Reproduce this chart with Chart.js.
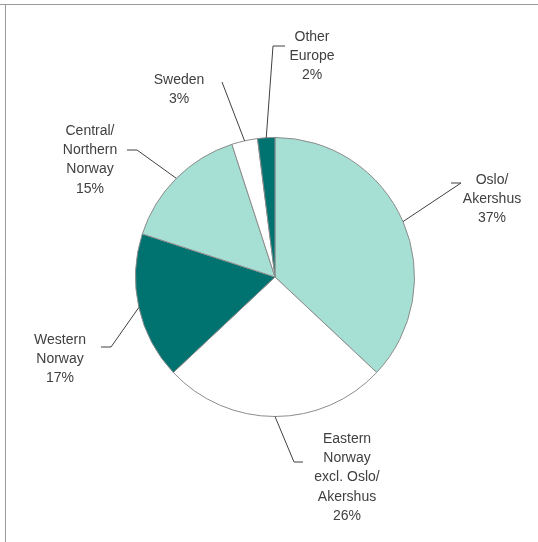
<!DOCTYPE html>
<html>
<head>
<meta charset="utf-8">
<script src="https://cdn.jsdelivr.net/npm/chart.js@4"></script>
<style>
  html, body { margin: 0; padding: 0; background: #fff; }
  #wrap { position: relative; width: 538px; height: 542px; }
</style>
</head>
<body>
<div id="wrap"><canvas id="pieChart" width="538" height="542"></canvas></div>
<script>
// Chart data
const categories = [
  ['Oslo/', 'Akershus'],
  ['Eastern', 'Norway', 'excl. Oslo/', 'Akershus'],
  ['Western', 'Norway'],
  ['Central/', 'Northern', 'Norway'],
  ['Sweden'],
  ['Other', 'Europe']
];
const shares = [37, 26, 17, 15, 3, 2];
const sliceColors = ['#a6e0d4', '#ffffff', '#007370', '#a6e0d4', '#ffffff', '#007370'];

// Label placement: text centre / first line y, leader elbow and end
const labelLayout = [
  { x: 492, y: 180, elbow: [461, 183], end: [451, 183] },
  { x: 347, y: 439, elbow: [294, 462], end: [303, 462] },
  { x: 60,  y: 340, elbow: [111, 347], end: [101, 347] },
  { x: 90,  y: 131, elbow: [137, 150], end: [127, 150] },
  { x: 179, y: 80,  elbow: [222, 82],  end: [222, 82] },
  { x: 312, y: 37,  elbow: [273, 46],  end: [285, 46] }
];

const labelPlugin = {
  id: 'pieLabels',
  afterDraw(chart) {
    const ctx = chart.ctx;
    ctx.save();
    // frame
    ctx.strokeStyle = '#9a9a9a';
    ctx.lineWidth = 1;
    ctx.beginPath();
    ctx.moveTo(0, 4.5);
    ctx.lineTo(538, 4.5);
    ctx.moveTo(5.5, 4.5);
    ctx.lineTo(5.5, 542);
    ctx.stroke();

    const arcs = chart.getDatasetMeta(0).data;
    ctx.strokeStyle = '#404040';
    ctx.fillStyle = '#404040';
    ctx.font = '14px "Liberation Sans", Arial, sans-serif';
    ctx.textAlign = 'center';
    ctx.textBaseline = 'middle';
    arcs.forEach((arc, i) => {
      const p = arc.getProps(['x', 'y', 'startAngle', 'endAngle', 'outerRadius'], true);
      const mid = (p.startAngle + p.endAngle) / 2;
      const sx = p.x + Math.cos(mid) * p.outerRadius;
      const sy = p.y + Math.sin(mid) * p.outerRadius;
      const lay = labelLayout[i];
      ctx.beginPath();
      ctx.moveTo(sx, sy);
      ctx.lineTo(lay.elbow[0], lay.elbow[1]);
      ctx.lineTo(lay.end[0], lay.end[1]);
      ctx.stroke();
      const lines = categories[i].concat([shares[i] + '%']);
      lines.forEach((t, k) => ctx.fillText(t, lay.x, lay.y + k * 19.3));
    });
    ctx.restore();
  }
};

document.addEventListener('DOMContentLoaded', () => {
  new Chart(document.getElementById('pieChart'), {
    type: 'pie',
    data: {
      labels: categories,
      datasets: [{
        data: shares,
        backgroundColor: sliceColors,
        borderColor: '#8c8c8c',
        borderWidth: 1
      }]
    },
    options: {
      responsive: false,
      animation: false,
      layout: { padding: { left: 135, right: 123, top: 137, bottom: 125 } },
      plugins: {
        legend: { display: false },
        tooltip: { enabled: false }
      }
    },
    plugins: [labelPlugin]
  });
});
</script>
</body>
</html>
